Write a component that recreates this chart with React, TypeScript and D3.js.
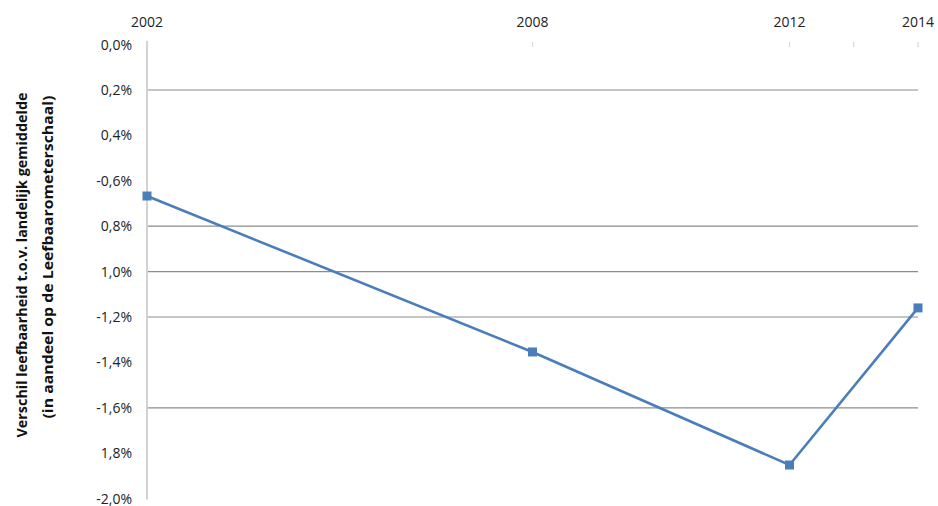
import React from "react";
import * as d3 from "d3";

const years = [2002, 2008, 2012, 2014];
const values = [-0.667, -1.354, -1.852, -1.16];
const yTicks = [0, -0.2, -0.4, -0.6, -0.8, -1.0, -1.2, -1.4, -1.6, -1.8, -2.0];
const yTickLabels = ["0,0%", "0,2%", "0,4%", "-0,6%", "0,8%", "1,0%", "-1,2%", "-1,4%", "-1,6%", "1,8%", "-2,0%"];
const gridValues = [-0.2, -0.8, -1.0, -1.2, -1.6];
const xTickYears = [2008, 2012, 2013, 2014];
const xLabelYears = [2002, 2008, 2012, 2014];
const titleLines = [
  "Verschil leefbaarheid t.o.v. landelijk gemiddelde",
  "(in aandeel op de Leefbaarometerschaal)",
];

const W = 938;
const H = 506;
const BLUE = "#4a7ebb";

export default function App() {
  const x = d3.scaleLinear().domain([2002, 2014]).range([147, 918]);
  const y = d3.scaleLinear().domain([0, -2]).range([44.6, 498.6]);
  const line = d3
    .line<number>()
    .x((_, i) => x(years[i]))
    .y((d) => y(d));
  const font = "'Open Sans', 'Liberation Sans', sans-serif";
  return (
    <svg
      width={W}
      height={H}
      style={{ position: "absolute", left: 0, top: 0, background: "#fff" }}
      fontFamily={font}
    >
      {gridValues.map((v) => (
        <line
          key={"g" + v}
          x1={x(2002)}
          x2={x(2014)}
          y1={y(v)}
          y2={y(v)}
          stroke="#8c8c8c"
          strokeWidth={1.2}
        />
      ))}
      <line x1={x(2002)} x2={x(2002)} y1={41} y2={y(-2) + 1} stroke="#d2d2d2" strokeWidth={2} />
      {xTickYears.map((yr) => (
        <line key={"t" + yr} x1={x(yr)} x2={x(yr)} y1={42} y2={47} stroke="#d8d8d8" strokeWidth={1.2} />
      ))}
      {xLabelYears.map((yr) => (
        <text key={"xl" + yr} x={x(yr)} y={27} textAnchor="middle" fontSize={14} fill="#222">
          {yr}
        </text>
      ))}
      {yTicks.map((v, i) => (
        <text
          key={"yl" + i}
          x={132}
          y={y(v)}
          dy="0.35em"
          textAnchor="end"
          fontSize={14}
          fill="#222"
        >
          {yTickLabels[i]}
        </text>
      ))}
      <g transform="translate(22,265) rotate(-90)">
        <text x={0} y={0} dy="0.35em" textAnchor="middle" fontSize={14} fontWeight="bold" fill="#111" textLength={345} lengthAdjust="spacingAndGlyphs">
          {titleLines[0]}
        </text>
      </g>
      <g transform="translate(48,257) rotate(-90)">
        <text x={0} y={0} dy="0.35em" textAnchor="middle" fontSize={14} fontWeight="bold" fill="#111" textLength={323} lengthAdjust="spacingAndGlyphs">
          {titleLines[1]}
        </text>
      </g>
      <path d={line(values) || ""} fill="none" stroke={BLUE} strokeWidth={2.6} />
      {values.map((v, i) => (
        <rect
          key={"m" + i}
          x={x(years[i]) - 4.5}
          y={y(v) - 4.5}
          width={9}
          height={9}
          fill={BLUE}
        />
      ))}
    </svg>
  );
}
